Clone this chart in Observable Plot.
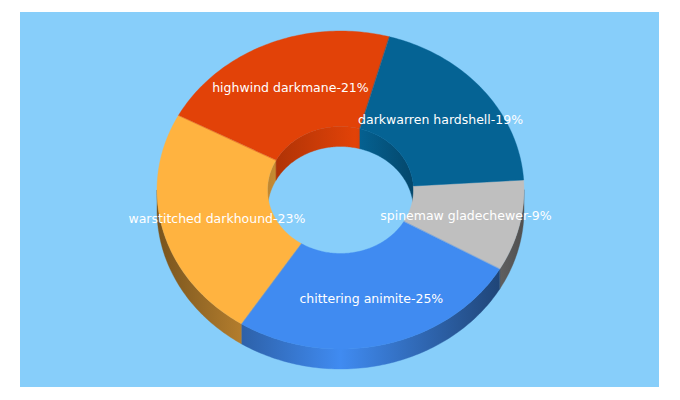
<!DOCTYPE html>
<html>
<head>
<meta charset="utf-8">
<style>html,body{margin:0;padding:0;background:#fff}</style>
<script src="https://cdn.jsdelivr.net/npm/d3@7"></script>
<script src="https://cdn.jsdelivr.net/npm/@observablehq/plot@0.6"></script>
</head>
<body>
<script>
// Data, clockwise from the right-hand side of the ring
const names = ["spinemaw gladechewer", "chittering animite", "warstitched darkhound", "highwind darkmane", "darkwarren hardshell"];
const shares = [9.3, 25.8, 23.7, 21.5, 19.7];
const shownPercents = [9, 25, 23, 21, 19];
const colors = ["#bfbfbf", "#408bf1", "#ffb340", "#e24208", "#056394"];

// Ring geometry (in chart units)
const cx = 340.5, cy = 190, rxOuter = 183.5, ryOuter = 159, rxInner = 73, ryInner = 63.5, depth = 20;
const startDeg = -3.6;
const rad = Math.PI / 180;

const arcs = d3.pie().sort(null).value(d => d)
  .startAngle(startDeg * rad).endAngle((startDeg + 360) * rad)(shares);

const slices = arcs.map((a, i) => ({
  i, name: names[i], pct: shownPercents[i], color: colors[i],
  t0: a.startAngle / rad, t1: a.endAngle / rad
}));

function arcPts(t0, t1, rx, ry, dy) {
  const n = Math.max(2, Math.ceil(Math.abs(t1 - t0))), pts = [];
  for (let k = 0; k <= n; k++) {
    const t = (t0 + (t1 - t0) * k / n) * rad;
    pts.push({x: cx + rx * Math.cos(t), y: cy + dy + ry * Math.sin(t)});
  }
  return pts;
}
function band(key, fill, a, b) {
  return [...a, ...b.reverse()].map(p => ({...p, key, fill}));
}
function clipRange(s, lo, hi) {
  const out = [];
  for (const off of [0, 360, -360]) {
    const a = Math.max(s.t0 + off, lo), b = Math.min(s.t1 + off, hi);
    if (b > a) out.push([a, b]);
  }
  return out;
}

const outerWall = slices.flatMap(s => clipRange(s, 0, 180).flatMap(([a, b], j) =>
  band(`o${s.i}${j}`, `url(#outer${s.i})`, arcPts(a, b, rxOuter, ryOuter, 0), arcPts(a, b, rxOuter, ryOuter, depth))));
const innerWall = slices.flatMap(s => clipRange(s, 180, 360).flatMap(([a, b], j) =>
  band(`i${s.i}${j}`, `url(#inner${s.i})`, arcPts(a, b, rxInner, ryInner, 0), arcPts(a, b, rxInner, ryInner, depth))));
const topFace = slices.flatMap(s =>
  band(`t${s.i}`, s.color, arcPts(s.t0, s.t1, rxOuter, ryOuter, 0), arcPts(s.t0, s.t1, rxInner, ryInner, 0)));

// Labels sit mid-ring at each slice's middle angle
const labels = slices.map(s => {
  const m = (s.t0 + s.t1) / 2 * rad;
  return {
    text: `${s.name}-${s.pct}%`,
    x: cx + (rxOuter + rxInner) / 2 * Math.cos(m),
    y: cy + (ryOuter + ryInner) / 2 * Math.sin(m)
  };
});

// Wall shading: [offset, brightness] across the ring's width
const outerStops = [[0, .47], [.23, .7], [.5, 1], [.93, .5], [1, .42]];
const innerStops = [[0, .75], [.6, 1], [1, .72]];

function gradients() {
  const defs = d3.create("svg:defs");
  const add = (id, color, stops, x1, x2) => {
    const g = defs.append("linearGradient").attr("id", id)
      .attr("gradientUnits", "userSpaceOnUse")
      .attr("x1", x1).attr("x2", x2).attr("y1", 0).attr("y2", 0);
    const c = d3.rgb(color);
    for (const [o, f] of stops) {
      g.append("stop").attr("offset", o)
        .attr("stop-color", d3.rgb(c.r * f, c.g * f, c.b * f).formatHex());
    }
  };
  slices.forEach(s => {
    add(`outer${s.i}`, s.color, outerStops, cx - rxOuter, cx + rxOuter);
    add(`inner${s.i}`, s.color, innerStops, cx - rxInner, cx + rxInner);
  });
  return defs.node();
}

const crisp = {dx: -0.5, dy: -0.5};

const ring = (data, sw) => Plot.line(data, {
  x: "x", y: "y", z: "key",
  fill: {value: "fill", scale: null},
  stroke: sw ? {value: "fill", scale: null} : "none",
  strokeWidth: sw, curve: "linear-closed", ...crisp
});

const chart = Plot.plot({
  width: 680, height: 400,
  marginLeft: 20, marginRight: 21, marginTop: 12, marginBottom: 13,
  x: {domain: [20, 659], axis: null},
  y: {domain: [387, 12], axis: null},
  style: {fontFamily: "'DejaVu Sans', sans-serif", fontSize: "12.5px", background: "#fff"},
  marks: [
    Plot.frame({fill: "#87cefa", stroke: "none", ...crisp}),
    gradients,
    ring(outerWall, 0.4),
    ring(innerWall, 0.4),
    ring(topFace, 0.4),
    Plot.text(labels, {
      x: "x", y: "y", text: "text", fill: "#fff", fontSize: 12.5, textAnchor: "middle"
    })
  ]
});
document.body.appendChild(chart);
</script>
</body>
</html>
